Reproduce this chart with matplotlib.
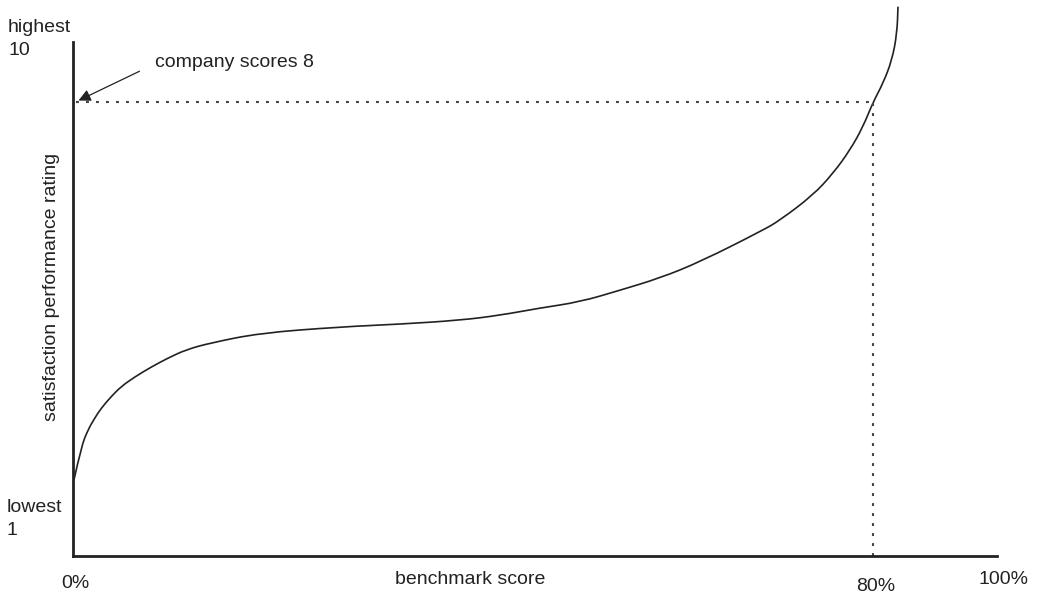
import matplotlib
matplotlib.use("Agg")
import matplotlib.pyplot as plt
from matplotlib.path import Path
from matplotlib.patches import PathPatch

plt.rcParams["font.family"] = ["Liberation Sans", "DejaVu Sans"]

# benchmark score (%) vs. rating height (0-100 of the plot height)
benchmark = [0.1, 0.83, 1.5, 2.17, 2.83, 3.83, 4.83, 6.17, 7.83, 9.5, 11.3,
             13.7, 18.7, 26.7, 32.7, 38.7, 42.7, 46.7, 50.7, 54.7, 58.7,
             62.7, 69.0, 70.7, 74.0, 76.0, 77.7, 79.0, 80.0, 81.0, 81.9,
             82.4, 82.5]
rating = [13.7, 19.7, 22.7, 24.8, 26.6, 28.7, 30.5, 32.2, 34.0, 35.6, 37.1,
          38.3, 40.1, 41.2, 41.7, 42.4, 43.3, 44.6, 45.7, 47.8, 50.0,
          52.9, 58.6, 60.4, 64.9, 68.8, 73.0, 77.2, 81.6, 85.0, 89.2,
          94.0, 98.8]

company_x = 80.0
company_y = 81.7
x_labels = ["0%", "80%", "100%"]

W, H = 1039, 593
fig = plt.figure(figsize=(W / 100, H / 100), dpi=100)
ax = fig.add_axes([73 / W, (H - 556) / H, (997 - 73) / W, 556 / H])
ax.set_xlim(0, 92.4)
ax.set_ylim(0, 100)

# smooth curve: quadratic beziers through the midpoints of the read points
pts = list(zip(benchmark, rating))
verts = [pts[0]]
codes = [Path.MOVETO]
for i in range(1, len(pts) - 1):
    mid = ((pts[i][0] + pts[i + 1][0]) / 2, (pts[i][1] + pts[i + 1][1]) / 2)
    verts += [pts[i], mid]
    codes += [Path.CURVE3, Path.CURVE3]
verts.append(pts[-1])
codes.append(Path.LINETO)
ax.add_patch(PathPatch(Path(verts, codes), fill=False, edgecolor="#222222",
                       lw=1.2))

# reference lines for the company score
dots = (0, (1.4, 3.4))
ax.plot([0.3, company_x], [company_y, company_y], color="#444444", lw=1.5,
        linestyle=dots)
ax.plot([company_x, company_x], [0, company_y], color="#444444", lw=1.5,
        linestyle=dots)

ax.annotate("", xy=(0.3, company_y), xytext=(6.9, 87.4),
            arrowprops=dict(arrowstyle="-|>", color="#222222", lw=0.9,
                            mutation_scale=18))
ax.text(8.2, 88.8, "company scores 8", fontsize=14, va="center", ha="left",
        color="#222222")

for side in ["top", "right"]:
    ax.spines[side].set_visible(False)
for side in ["left", "bottom"]:
    ax.spines[side].set_linewidth(2.0)
    ax.spines[side].set_color("#222222")
ax.spines["left"].set_bounds(0, (556 - 42) / 5.56)
ax.set_xticks([])
ax.set_yticks([])


def ftext(px, py, s, **kw):
    fig.text(px / W, 1 - py / H, s, fontsize=14, color="#222222", **kw)


ftext(8, 32, "highest", va="baseline")
ftext(8, 55, "10", va="baseline")
ftext(7, 512, "lowest", va="baseline")
ftext(7, 535, "1", va="baseline")
ftext(75, 588, x_labels[0], ha="center", va="baseline")
ftext(876, 591, x_labels[1], ha="center", va="baseline")
ftext(1004, 584, x_labels[2], ha="center", va="baseline")
ftext(470, 584, "benchmark score", ha="center", va="baseline")
ftext(52, 287, "satisfaction performance rating", ha="center", va="center",
      rotation=90)

fig.savefig("out.png", dpi=100)
